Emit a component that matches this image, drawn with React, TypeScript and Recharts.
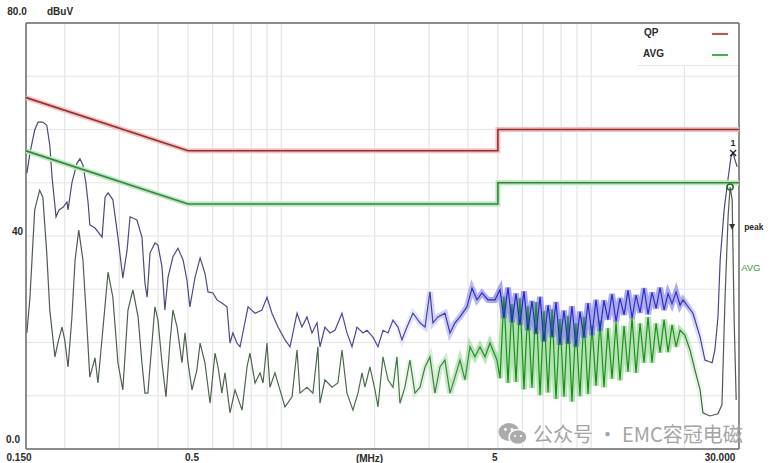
import { LineChart, Line, XAxis, YAxis, ReferenceLine, ReferenceDot } from "recharts";

// limit lines (EN 55032 class B style), MHz / dBuV
const LIMIT_F = [0.15, 0.5, 5, 5, 30];
const QP_LIMIT = [66, 56, 56, 60, 60];
const AVG_LIMIT = [56, 46, 46, 50, 50];

// peak scan
const PEAK_F = [
  0.151, 0.1545, 0.160, 0.164, 0.170, 0.175, 0.179, 0.182, 0.1875, 0.1917,
  0.1975, 0.2034, 0.205, 0.211, 0.219, 0.224, 0.229, 0.234, 0.238, 0.241,
  0.2505, 0.264, 0.270, 0.276, 0.286, 0.297, 0.308, 0.318, 0.325, 0.342,
  0.355, 0.363, 0.369, 0.377, 0.391, 0.400, 0.412, 0.421, 0.431, 0.447,
  0.464, 0.482, 0.496, 0.507, 0.527, 0.547, 0.567, 0.580, 0.602, 0.620,
  0.643, 0.668, 0.683, 0.698, 0.719, 0.736, 0.781, 0.823, 0.866, 0.899,
  0.933, 0.976, 1.028, 1.067, 1.124, 1.166, 1.210, 1.256, 1.304, 1.333,
  1.383, 1.436, 1.490, 1.570, 1.629, 1.691, 1.755, 1.835, 1.890, 1.976,
  2.051, 2.129, 2.210, 2.293, 2.380, 2.451, 2.544, 2.660, 2.803, 2.909,
  3.018, 3.086, 3.203, 3.374, 3.502, 3.635, 3.772, 3.974, 4.125, 4.280,
  4.443, 4.645, 4.892, 5.08, 5.23, 5.39, 5.55, 5.72, 5.89, 6.07,
  6.25, 6.44, 6.64, 6.84, 7.04, 7.26, 7.48, 7.70, 7.93, 8.17,
  8.42, 8.67, 8.93, 9.20, 9.48, 9.77, 10.06, 10.37, 10.68, 11.00,
  11.33, 11.68, 12.03, 12.39, 12.77, 13.15, 13.55, 13.96, 14.38, 14.81,
  15.26, 15.72, 16.20, 16.69, 17.19, 17.71, 18.24, 18.80, 19.36, 19.78,
  21.31, 22.47, 23.29, 24.57, 25.08, 25.66, 26.08, 26.86, 27.43, 28.26,
  28.72, 29.11, 29.6,
];
const PEAK_DB = [
  51.8, 55.6, 59.9, 61.4, 61.4, 60.8, 57.1, 51.1, 43.6, 44.9,
  45.4, 46.4, 44.9, 50.0, 53.7, 54.5, 53.3, 50.0, 46.2, 42.1,
  41.5, 39.8, 47.3, 48.1, 46.8, 39.8, 32.1, 37.4, 43.6, 43.0,
  39.8, 31.2, 28.5, 36.8, 38.7, 38.3, 34.2, 26.1, 32.3, 36.1,
  37.7, 35.5, 31.7, 26.7, 32.3, 35.9, 33.0, 29.5, 29.3, 28.0,
  27.4, 26.7, 19.9, 21.8, 19.9, 19.2, 26.7, 25.5, 26.1, 28.5,
  25.5, 22.9, 20.5, 19.2, 25.5, 22.9, 24.8, 21.8, 23.7, 19.2,
  22.9, 21.8, 22.3, 25.5, 21.8, 19.2, 22.9, 21.8, 22.3, 21.0,
  19.2, 22.3, 21.8, 24.2, 22.9, 20.5, 22.9, 25.5, 23.7, 22.9,
  29.5, 23.7, 24.8, 25.5, 21.8, 23.7, 24.8, 26.7, 30.2, 28.0,
  29.3, 28.0, 28.0, 29.9, 24.6, 30.3, 23.8, 29.2, 23.3, 29.6,
  22.3, 27.8, 21.6, 28.6, 20.2, 27.0, 21.0, 27.6, 19.6, 26.0,
  19.8, 26.8, 19.2, 25.8, 20.9, 27.4, 21.4, 28.0, 22.2, 27.9,
  24.3, 29.1, 23.9, 28.3, 25.2, 29.8, 24.6, 28.9, 25.6, 30.2,
  25.3, 29.4, 26.4, 30.3, 26.1, 29.2, 27.3, 29.5, 27.0, 28.0,
  25.5, 21.0, 16.7, 16.2, 18.6, 24.8, 35.5, 44.9, 49.2, 54.8,
  55.6, 54.3, 53.0,
];

// average scan
const AVG_F = [
  0.151, 0.1545, 0.160, 0.166, 0.170, 0.175, 0.179, 0.186, 0.190, 0.196,
  0.200, 0.205, 0.211, 0.216, 0.222, 0.229, 0.236, 0.241, 0.2505, 0.256,
  0.266, 0.276, 0.286, 0.297, 0.308, 0.320, 0.332, 0.345, 0.355, 0.363,
  0.371, 0.3825, 0.391, 0.400, 0.412, 0.4245, 0.437, 0.447, 0.461, 0.478,
  0.489, 0.500, 0.515, 0.534, 0.547, 0.567, 0.589, 0.611, 0.625, 0.643,
  0.658, 0.683, 0.709, 0.747, 0.775, 0.792, 0.823, 0.854, 0.873, 0.899,
  0.919, 0.954, 0.990, 1.028, 1.083, 1.124, 1.149, 1.210, 1.265, 1.313,
  1.333, 1.383, 1.457, 1.523, 1.570, 1.629, 1.703, 1.768, 1.822, 1.862,
  1.932, 2.006, 2.051, 2.129, 2.210, 2.293, 2.362, 2.415, 2.506, 2.601,
  2.700, 2.803, 2.909, 3.018, 3.132, 3.251, 3.374, 3.502, 3.635, 3.772,
  3.915, 4.064, 4.217, 4.377, 4.543, 4.713, 4.966, 5.08, 5.23, 5.39,
  5.55, 5.72, 5.89, 6.07, 6.25, 6.44, 6.64, 6.84, 7.04, 7.26,
  7.48, 7.70, 7.93, 8.17, 8.42, 8.67, 8.93, 9.20, 9.48, 9.77,
  10.06, 10.37, 10.68, 11.00, 11.33, 11.68, 12.03, 12.39, 12.77, 13.15,
  13.55, 13.96, 14.38, 14.81, 15.26, 15.72, 16.20, 16.69, 17.19, 17.71,
  18.24, 18.80, 19.36, 20.07, 20.84, 21.63, 22.47, 22.95, 24.17, 25.66,
  26.43, 27.03, 27.68, 28.09, 28.51, 28.94, 29.38,
];
const AVG_DB = [
  21.8, 28.5, 44.9, 48.6, 47.3, 36.8, 26.1, 17.3, 19.9, 22.9,
  20.5, 15.4, 24.8, 35.5, 41.1, 35.5, 22.9, 13.5, 17.1, 12.4,
  22.9, 33.2, 28.5, 16.2, 11.1, 26.1, 29.9, 24.8, 16.2, 10.5,
  10.5, 19.9, 26.7, 24.2, 16.2, 9.8, 19.9, 26.1, 22.9, 16.2,
  21.8, 16.2, 11.1, 14.8, 19.9, 16.2, 8.6, 18.0, 15.4, 10.5,
  14.3, 6.8, 11.1, 7.3, 15.4, 18.0, 12.4, 14.3, 12.4, 19.9,
  11.6, 14.3, 11.1, 7.9, 9.8, 18.6, 10.5, 11.6, 10.5, 19.2,
  8.6, 13.0, 11.6, 12.4, 18.6, 10.5, 7.3, 10.5, 14.3, 11.6,
  15.4, 11.1, 7.9, 17.3, 13.0, 11.6, 17.3, 8.6, 11.6, 16.7,
  10.5, 11.6, 15.4, 17.3, 10.5, 15.4, 16.7, 10.5, 13.5, 16.7,
  13.0, 19.2, 17.3, 19.2, 17.3, 19.9, 16.7, 13.3, 28.6, 12.4,
  27.2, 12.6, 28.3, 11.2, 26.8, 11.5, 27.6, 10.1, 25.9, 10.6,
  26.2, 9.4, 24.4, 9.8, 25.0, 8.9, 23.6, 9.9, 24.8, 10.3,
  23.2, 11.9, 24.1, 11.6, 22.7, 13.2, 23.8, 12.9, 23.1, 14.5,
  24.6, 14.3, 23.6, 16.2, 24.8, 16.2, 23.6, 18.1, 24.3, 18.2,
  23.3, 19.2, 22.3, 21.4, 18.6, 14.8, 11.1, 6.8, 6.2, 6.6,
  8.3, 28.0, 43.9, 49.2, 46.8, 24.2, 9.2,
];

// markers near 28 MHz
const MARK_PEAK = { f: 28.72, db: 55.6 };
const MARK_AVG = { f: 28.09, db: 49.2 };
const MARK_TRI = { f: 28.51, db: 41.7 };
const MARK_AVG_TEXT = { f: 28.51, db: 34.0 };

const X_TICKS = [0.15, 0.5, 5, 30];
const X_LABELS = ["0.150", "0.5", "5", "30.000"];
const Y_TICKS = [0, 40, 80];
const GRID_F = [0.2, 0.3, 0.4, 0.5, 0.6, 0.7, 0.8, 0.9, 1, 2, 3, 4, 5, 6, 7, 8, 9, 10, 20];
const GRID_DB = [10, 20, 30, 40, 50, 60, 70];

const zip = (fs: number[], vs: number[]) => fs.map((f, i) => ({ f, v: vs[i] }));
const qpLimit = zip(LIMIT_F, QP_LIMIT);
const avgLimit = zip(LIMIT_F, AVG_LIMIT);
const peakData = zip(PEAK_F, PEAK_DB);
const avgData = zip(AVG_F, AVG_DB);

const FONT = "'Liberation Sans', Arial, sans-serif";
const txt = { fontFamily: FONT, fontSize: 10, fontWeight: 700, fill: "#2a2a2a" };

const XTick = (props: any) => {
  const { x, payload } = props;
  const i = X_TICKS.indexOf(payload.value);
  const shift = [-7, 4, -3, -19][i] ?? 0;
  return (
    <text x={x + shift} y={461} textAnchor="middle" {...txt}>
      {X_LABELS[i]}
    </text>
  );
};

const YTick = (props: any) => {
  const { y, payload } = props;
  const v = payload.value;
  if (v === 80)
    return (
      <g>
        <text x={17} y={y - 8} textAnchor="middle" {...txt}>80.0</text>
        <text x={60} y={y - 8} textAnchor="middle" {...txt}>dBuV</text>
      </g>
    );
  if (v === 40)
    return <text x={23} y={y - 1} textAnchor="end" {...txt}>40</text>;
  return <text x={13} y={y - 6} textAnchor="middle" {...txt}>0.0</text>;
};

const App = () => (
  <div style={{ position: "absolute", left: 0, top: 0, width: 774, height: 463, background: "#fff" }}>
    <LineChart width={774} height={463} margin={{ top: 23, right: 35, left: 0, bottom: 0 }}>
      <defs>
        <linearGradient id="peakStroke" x1="0" y1="0" x2="1" y2="0">
          <stop offset="0" stopColor="#4c4c6e" />
          <stop offset="0.3" stopColor="#4a4a8c" />
          <stop offset="0.55" stopColor="#4646b0" />
          <stop offset="0.66" stopColor="#2626cc" />
          <stop offset="0.92" stopColor="#3030c0" />
          <stop offset="0.97" stopColor="#4a4a7a" />
          <stop offset="1" stopColor="#4a4a7a" />
        </linearGradient>
        <linearGradient id="peakHalo" x1="0" y1="0" x2="1" y2="0">
          <stop offset="0" stopColor="#7a7ae8" stopOpacity="0" />
          <stop offset="0.5" stopColor="#7a7ae8" stopOpacity="0" />
          <stop offset="0.58" stopColor="#7a7ae8" stopOpacity="0.35" />
          <stop offset="0.66" stopColor="#6a6ae8" stopOpacity="0.6" />
          <stop offset="0.92" stopColor="#6a6ae8" stopOpacity="0.55" />
          <stop offset="0.96" stopColor="#7a7ae8" stopOpacity="0" />
        </linearGradient>
        <linearGradient id="avgStroke" x1="0" y1="0" x2="1" y2="0">
          <stop offset="0" stopColor="#505a50" />
          <stop offset="0.45" stopColor="#4a6a4a" />
          <stop offset="0.62" stopColor="#3a8a3a" />
          <stop offset="0.67" stopColor="#168f16" />
          <stop offset="0.92" stopColor="#228a22" />
          <stop offset="0.96" stopColor="#505a50" />
          <stop offset="1" stopColor="#505a50" />
        </linearGradient>
        <linearGradient id="avgHalo" x1="0" y1="0" x2="1" y2="0">
          <stop offset="0" stopColor="#7ed07e" stopOpacity="0" />
          <stop offset="0.5" stopColor="#7ed07e" stopOpacity="0" />
          <stop offset="0.6" stopColor="#7ed07e" stopOpacity="0.45" />
          <stop offset="0.66" stopColor="#7ed07e" stopOpacity="0.6" />
          <stop offset="0.92" stopColor="#7ed07e" stopOpacity="0.55" />
          <stop offset="0.96" stopColor="#7ed07e" stopOpacity="0" />
        </linearGradient>
      </defs>
      <XAxis
        type="number"
        dataKey="f"
        scale="log"
        domain={[0.15, 30]}
        allowDataOverflow
        ticks={X_TICKS}
        tick={<XTick />}
        tickLine={false}
        axisLine={false}
        height={14}
        label={{ value: "(MHz)", position: "insideBottom", offset: 1, dx: -13, style: txt }}
      />
      <YAxis
        type="number"
        domain={[0, 80]}
        allowDataOverflow
        ticks={Y_TICKS}
        tick={<YTick />}
        tickLine={false}
        axisLine={false}
        width={26}
      />
      {GRID_DB.map((v) => (
        <ReferenceLine key={"h" + v} y={v} stroke="#e4e4e4" strokeWidth={1.2} />
      ))}
      {GRID_F.map((f) => (
        <ReferenceLine key={"v" + f} x={f} stroke="#e4e4e4" strokeWidth={1.2} />
      ))}
      <ReferenceLine x={0.15} stroke="#666" strokeWidth={1.5} />
      <ReferenceLine x={30} stroke="#666" strokeWidth={1.5} />
      <ReferenceLine y={0} stroke="#666" strokeWidth={1.5} />
      <ReferenceLine y={80} stroke="#666" strokeWidth={1.5} />

      <Line data={avgData} dataKey="v" type="linear" dot={false} stroke="url(#avgHalo)" strokeWidth={6} isAnimationActive={false} />
      <Line data={peakData} dataKey="v" type="linear" dot={false} stroke="url(#peakHalo)" strokeWidth={6} isAnimationActive={false} />
      <Line data={avgData} dataKey="v" type="linear" dot={false} stroke="url(#avgStroke)" strokeWidth={1.2} isAnimationActive={false} />
      <Line data={peakData} dataKey="v" type="linear" dot={false} stroke="url(#peakStroke)" strokeWidth={1.2} isAnimationActive={false} />

      <Line data={qpLimit} dataKey="v" type="linear" dot={false} stroke="#f5c0c0" strokeWidth={5} isAnimationActive={false} />
      <Line data={qpLimit} dataKey="v" type="linear" dot={false} stroke="#9a2c2c" strokeWidth={1.6} isAnimationActive={false} />
      <Line data={avgLimit} dataKey="v" type="linear" dot={false} stroke="#b8e8b8" strokeWidth={5} isAnimationActive={false} />
      <Line data={avgLimit} dataKey="v" type="linear" dot={false} stroke="#2c8a3c" strokeWidth={1.6} isAnimationActive={false} />

      <ReferenceDot
        x={MARK_PEAK.f}
        y={MARK_PEAK.db}
        ifOverflow="visible"
        shape={(p: any) => (
          <g>
            <line x1={p.cx - 3} y1={p.cy - 3} x2={p.cx + 3} y2={p.cy + 3} stroke="#222" strokeWidth={1.3} />
            <line x1={p.cx - 3} y1={p.cy + 3} x2={p.cx + 3} y2={p.cy - 3} stroke="#222" strokeWidth={1.3} />
            <text x={p.cx} y={p.cy - 7} textAnchor="middle" {...txt} fontSize={9}>1</text>
          </g>
        )}
      />
      <ReferenceDot
        x={MARK_AVG.f}
        y={MARK_AVG.db}
        ifOverflow="visible"
        shape={(p: any) => <circle cx={p.cx} cy={p.cy} r={3} fill="none" stroke="#2a6a2a" strokeWidth={1.6} />}
      />
      <ReferenceDot
        x={MARK_TRI.f}
        y={MARK_TRI.db}
        ifOverflow="visible"
        shape={(p: any) => (
          <g>
            <path d={`M${p.cx - 3},${p.cy - 3}L${p.cx + 3},${p.cy - 3}L${p.cx},${p.cy + 3}Z`} fill="#333" />
            <text x={p.cx + 12} y={p.cy + 3} {...txt} fontSize={8.5}>peak</text>
          </g>
        )}
      />
      <ReferenceDot
        x={MARK_AVG_TEXT.f}
        y={MARK_AVG_TEXT.db}
        ifOverflow="visible"
        shape={(p: any) => (
          <text x={p.cx + 9} y={p.cy + 3} {...txt} fontWeight={400} fill="#3a9a3a" fontSize={9.5}>AVG</text>
        )}
      />
    </LineChart>

    {/* legend box, top right inside the frame */}
    <div
      style={{
        position: "absolute",
        left: 638,
        top: 24,
        width: 100,
        height: 41,
        background: "#fff",
        borderBottom: "1px solid #e4e4e4",
        fontFamily: FONT,
        fontSize: 10,
        fontWeight: 700,
        color: "#2a2a2a",
      }}
    >
      <div style={{ position: "absolute", left: 6, top: 3 }}>QP</div>
      <div style={{ position: "absolute", left: 74, top: 9, width: 16, height: 1.5, background: "#d84a4a" }} />
      <div style={{ position: "absolute", left: 5, top: 24 }}>AVG</div>
      <div style={{ position: "absolute", left: 74, top: 30, width: 16, height: 1.5, background: "#44b044" }} />
    </div>

    {/* watermark */}
    <div style={{ position: "absolute", left: 497, top: 419, display: "flex", alignItems: "center", color: "#a4a4a4" }}>
      <svg width={32} height={26}>
        <ellipse cx={12} cy={11} rx={10.5} ry={9} fill="#ababab" />
        <ellipse cx={21} cy={16} rx={9} ry={7.5} fill="#ababab" stroke="#fff" strokeWidth={1.5} />
        <circle cx={8.5} cy={8.5} r={1.4} fill="#fff" />
        <circle cx={15} cy={8.5} r={1.4} fill="#fff" />
        <circle cx={18} cy={15} r={1.1} fill="#fff" />
        <circle cx={24} cy={15} r={1.1} fill="#fff" />
      </svg>
      <span style={{ fontFamily: "'Noto Sans CJK SC', sans-serif", fontSize: 20, marginLeft: 4, whiteSpace: "nowrap" }}>
        公众号 · EMC容冠电磁
      </span>
    </div>
  </div>
);

export default App;
